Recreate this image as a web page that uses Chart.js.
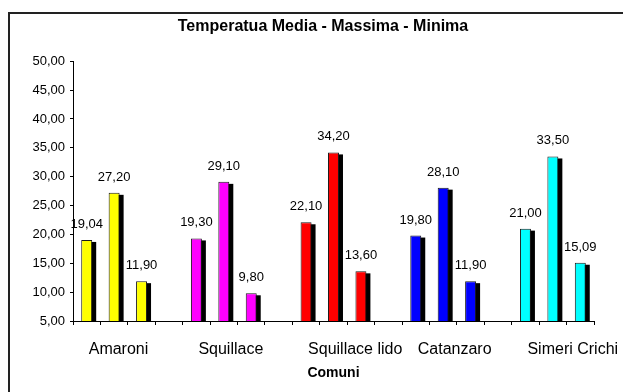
<!DOCTYPE html>
<html>
<head>
<meta charset="utf-8">
<script src="https://cdn.jsdelivr.net/npm/chart.js@4/dist/chart.umd.min.js"></script>
<style>
  html, body { margin: 0; padding: 0; background: #fff; }
  #wrap { width: 623px; height: 392px; }
</style>
</head>
<body>
<div id="wrap"><canvas id="grafico" width="623" height="392"></canvas></div>
<script>
// Comuni e temperature (°C)
const comuni = ['Amaroni', 'Squillace', 'Squillace lido', 'Catanzaro', 'Simeri Crichi'];
const tempMedia   = [19.04, 19.30, 22.10, 19.80, 21.00];
const tempMassima = [27.20, 29.10, 34.20, 28.10, 33.50];
const tempMinima  = [11.90, 9.80, 13.60, 11.90, 15.09];

// Scala verticale
const yMin = 5;
const yMax = 50;
const yStep = 5;

// Un colore per comune
const coloriComuni = ['#FFFF00', '#FF00FF', '#FF0000', '#0000FF', '#00FFFF'];

// Ogni comune occupa tre posizioni (media, massima, minima) seguite da una posizione vuota
const etichette = [];
const valori = [];
const colori = [];
comuni.forEach((nome, i) => {
  [tempMedia[i], tempMassima[i], tempMinima[i]].forEach((v, k) => {
    etichette.push(k === 0 ? nome : '');
    valori.push(v);
    colori.push(coloriComuni[i]);
  });
  if (i < comuni.length - 1) {
    etichette.push('');
    valori.push(null);
    colori.push('rgba(0,0,0,0)');
  }
});

const fmt = v => Number(v).toFixed(2).replace('.', ',');

// Cornice del grafico
const cornice = {
  id: 'cornice',
  beforeDraw(chart) {
    const ctx = chart.ctx;
    ctx.save();
    ctx.strokeStyle = '#222';
    ctx.lineWidth = 2;
    ctx.strokeRect(9, 13, 1000, 1000);
    ctx.restore();
  }
};

// Ombra nera delle barre ed etichette con i valori
const ombraEValori = {
  id: 'ombraEValori',
  beforeDatasetsDraw(chart) {
    const ctx = chart.ctx;
    const area = chart.chartArea;
    ctx.save();
    ctx.beginPath();
    ctx.rect(area.left, area.top - 10, area.right - area.left + 10, area.bottom - area.top + 10);
    ctx.clip();
    ctx.fillStyle = '#000';
    const meta = chart.getDatasetMeta(0);
    meta.data.forEach((bar, i) => {
      const v = chart.data.datasets[0].data[i];
      if (v === null || v === undefined) return;
      const { x, y, base, width } = bar.getProps(['x', 'y', 'base', 'width'], true);
      ctx.fillRect(x - width / 2 + 4, y + 2, width, base - y - 2);
    });
    ctx.restore();
  },
  afterDatasetsDraw(chart) {
    const ctx = chart.ctx;
    ctx.save();
    ctx.font = '13px "Liberation Sans", Arial, sans-serif';
    ctx.fillStyle = '#000';
    ctx.textAlign = 'center';
    ctx.textBaseline = 'alphabetic';
    const meta = chart.getDatasetMeta(0);
    meta.data.forEach((bar, i) => {
      const v = chart.data.datasets[0].data[i];
      if (v === null || v === undefined) return;
      ctx.fillText(fmt(v), bar.x, bar.y - 12);
    });
    ctx.restore();
  }
};

const fontBase = '"Liberation Sans", Arial, sans-serif';

new Chart(document.getElementById('grafico'), {
  type: 'bar',
  data: {
    labels: etichette,
    datasets: [{
      data: valori,
      backgroundColor: colori,
      borderColor: '#1a1a1a',
      borderWidth: 1,
      categoryPercentage: 1,
      barPercentage: 0.4
    }]
  },
  options: {
    responsive: false,
    devicePixelRatio: 1,
    animation: false,
    events: [],
    layout: { padding: { left: 23, right: 0, top: 13, bottom: 0 } },
    plugins: {
      legend: { display: false },
      tooltip: { enabled: false },
      title: {
        display: true,
        text: 'Temperatua Media - Massima - Minima',
        color: '#000',
        font: { family: fontBase, size: 16, weight: 'bold' },
        padding: { top: 4, bottom: 25 }
      }
    },
    scales: {
      x: {
        offset: true,
        grid: { offset: true, drawOnChartArea: false, drawTicks: true, tickLength: 4, color: '#000', tickColor: '#000' },
        border: { display: true, color: '#000', width: 1 },
        ticks: {
          autoSkip: false,
          maxRotation: 0,
          minRotation: 0,
          align: 'start',
          labelOffset: 2,
          padding: 15,
          color: '#000',
          font: { family: fontBase, size: 16 }
        },
        title: {
          display: true,
          text: 'Comuni',
          color: '#000',
          font: { family: fontBase, size: 14, weight: 'bold' },
          padding: { top: 0, bottom: 10 }
        },
        afterFit(scale) { scale.height = 71; }
      },
      y: {
        min: yMin,
        max: yMax,
        grid: { drawOnChartArea: false, drawTicks: true, tickLength: 3, color: '#000', tickColor: '#000' },
        border: { display: true, color: '#000', width: 1 },
        ticks: {
          stepSize: yStep,
          padding: 5,
          color: '#000',
          font: { family: fontBase, size: 13 },
          callback: v => fmt(v)
        },
        afterFit(scale) { scale.width = 50; }
      },
      // margine destro vuoto oltre l'ultimo gruppo di barre
      margine: {
        type: 'linear',
        position: 'right',
        display: true,
        grid: { display: false, drawTicks: false },
        border: { display: false },
        ticks: { display: false },
        afterFit(scale) { scale.width = 29; }
      }
    }
  },
  plugins: [cornice, ombraEValori]
});
</script>
</body>
</html>
